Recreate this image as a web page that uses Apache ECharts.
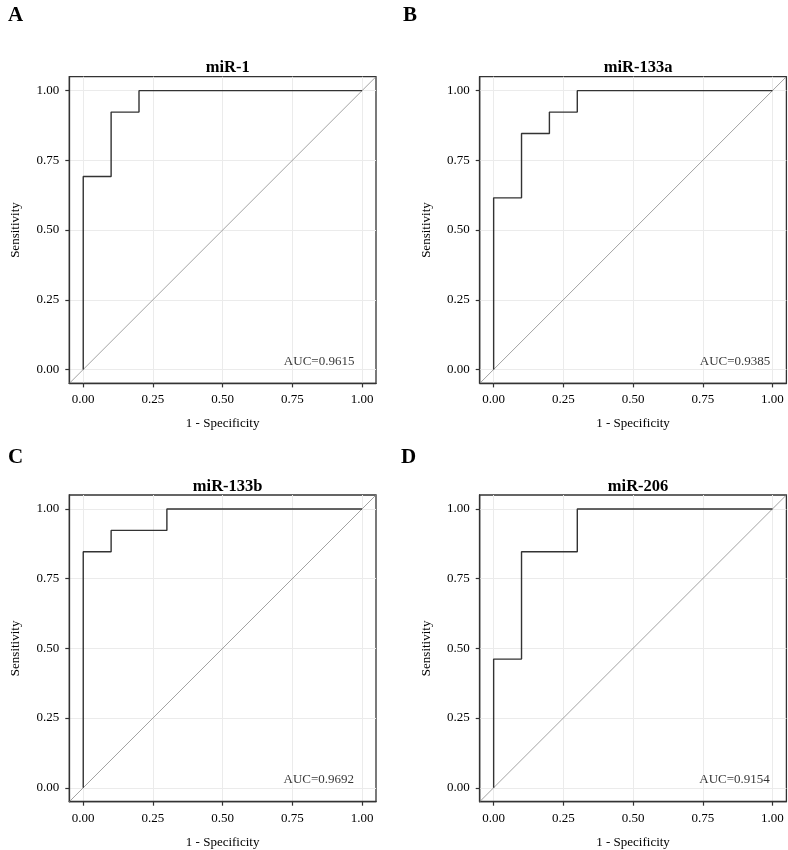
<!DOCTYPE html>
<html>
<head>
<meta charset="utf-8">
<script src="https://cdn.jsdelivr.net/npm/echarts@6/dist/echarts.min.js"></script>
<style>
html,body{margin:0;padding:0;background:#fff;}
#chart{width:788px;height:850px;}
</style>
</head>
<body>
<div id="chart"></div>
<script>
// ---- data ----
const panelLetters = ['A', 'B', 'C', 'D'];
const panelTitles = ['miR-1', 'miR-133a', 'miR-133b', 'miR-206'];
const aucLabels = ['AUC=0.9615', 'AUC=0.9385', 'AUC=0.9692', 'AUC=0.9154'];
const tickValues = [0, 0.25, 0.5, 0.75, 1];
const tickLabels = ['0.00', '0.25', '0.50', '0.75', '1.00'];
const xName = '1 - Specificity';
const yName = 'Sensitivity';

// ROC coordinates (1 - specificity, sensitivity)
const fprA = [0, 0, 0.1, 0.1, 0.2, 0.2, 1];
const tprA = [0, 0.6923, 0.6923, 0.9231, 0.9231, 1, 1];
const fprB = [0, 0, 0.1, 0.1, 0.2, 0.2, 0.3, 0.3, 1];
const tprB = [0, 0.6154, 0.6154, 0.8462, 0.8462, 0.9231, 0.9231, 1, 1];
const fprC = [0, 0, 0.1, 0.1, 0.3, 0.3, 1];
const tprC = [0, 0.8462, 0.8462, 0.9231, 0.9231, 1, 1];
const fprD = [0, 0, 0.1, 0.1, 0.3, 0.3, 1];
const tprD = [0, 0.4615, 0.4615, 0.8462, 0.8462, 1, 1];
const diagX = [-0.05, 1.05];
const diagY = [-0.05, 1.05];

// ---- layout / style ----
const FONT = '"Liberation Serif","Times New Roman",serif';
const gridsPos = [
  {left: 69.3, top: 76.7},
  {left: 479.7, top: 76.7},
  {left: 69.3, top: 495},
  {left: 479.7, top: 495}
];
const SIZE = 306.7;
const aucPos = [[0.846, 0.03], [0.866, 0.03], [0.845, 0.028], [0.864, 0.028]];
const letterPos = [[3, 0], [398, 0], [3, 442], [396, 442]];

const rocs = [[fprA, tprA], [fprB, tprB], [fprC, tprC], [fprD, tprD]];
const zip = (a, b) => a.map((v, i) => [v, b[i]]);

const grid = [], xAxis = [], yAxis = [], series = [], title = [];
gridsPos.forEach((p, i) => {
  grid.push({
    left: p.left, top: p.top, width: SIZE, height: SIZE,
    show: true, borderColor: '#333', borderWidth: 1.3, backgroundColor: '#fff'
  });
  const common = {
    gridIndex: i, type: 'value', min: -0.05, max: 1.05,
    axisLine: {show: true, onZero: false, lineStyle: {color: '#333', width: 1.3}},
    axisTick: {show: true, inside: false, length: 4, lineStyle: {color: '#333', width: 1.2}, customValues: tickValues},
    axisLabel: {
      customValues: tickValues,
      formatter: v => tickLabels[tickValues.indexOf(Math.round(v * 100) / 100)] ?? '',
      fontFamily: FONT, fontSize: 13, color: '#000'
    },
    splitLine: {show: true, lineStyle: {color: '#ebebeb', width: 1}},
    nameLocation: 'middle',
    nameTextStyle: {fontFamily: FONT, fontSize: 13, color: '#000'}
  };
  xAxis.push(Object.assign({}, common, {
    name: xName, nameGap: 34,
    axisLabel: Object.assign({}, common.axisLabel, {margin: 10})
  }));
  yAxis.push(Object.assign({}, common, {
    name: yName, nameGap: 47,
    axisLabel: Object.assign({}, common.axisLabel, {margin: 10})
  }));
  series.push({
    type: 'line', xAxisIndex: i, yAxisIndex: i, data: zip(diagX, diagY),
    showSymbol: false, silent: true, lineStyle: {color: '#8a8a8a', width: 0.8}
  });
  series.push({
    type: 'line', xAxisIndex: i, yAxisIndex: i, data: zip(rocs[i][0], rocs[i][1]),
    showSymbol: false, silent: true, lineStyle: {color: '#333', width: 1.4}
  });
  series.push({
    type: 'scatter', xAxisIndex: i, yAxisIndex: i, symbolSize: 0,
    data: [aucPos[i]], silent: true,
    label: {show: true, position: 'inside', formatter: aucLabels[i],
      fontFamily: FONT, fontSize: 13, color: '#000'}
  });
  title.push({
    text: panelTitles[i], left: p.left + SIZE / 2, top: p.top - 22, textAlign: 'center',
    textStyle: {fontFamily: FONT, fontSize: 16.5, fontWeight: 'bold', color: '#000'}
  });
  title.push({
    text: panelLetters[i], left: letterPos[i][0], top: letterPos[i][1],
    textStyle: {fontFamily: FONT, fontSize: 21, fontWeight: 'bold', color: '#000'}
  });
});

const chart = echarts.init(document.getElementById('chart'), null, {renderer: 'canvas'});
chart.setOption({
  backgroundColor: '#fff',
  animation: false,
  title, grid, xAxis, yAxis, series
});
</script>
</body>
</html>
